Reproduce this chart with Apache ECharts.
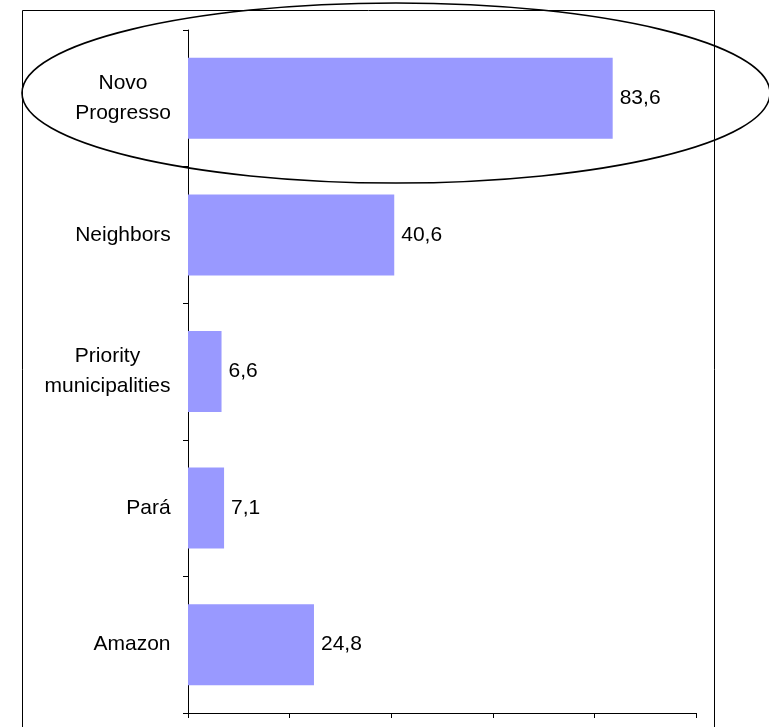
<!DOCTYPE html>
<html>
<head>
<meta charset="utf-8">
<script src="https://cdn.jsdelivr.net/npm/echarts@6/dist/echarts.min.js"></script>
<style>
  html, body { margin: 0; padding: 0; background: #fff; }
  #chart { width: 769px; height: 727px; }
</style>
</head>
<body>
<div id="chart"></div>
<script>
// data
const categories = ['Novo\nProgresso', 'Neighbors', 'Priority\nmunicipalities', 'Pará', 'Amazon'];
const values = [83.6, 40.6, 6.6, 7.1, 24.8];
const xTicks = [0, 20, 40, 60, 80, 100];

const FONT = '"Liberation Sans", Arial, sans-serif';
const FS = 21;

// each multi-line label gets its own width so the lines center on each other
const ctx = document.createElement('canvas').getContext('2d');
ctx.font = FS + 'px ' + FONT;
const rich = {};
categories.forEach((c, i) => {
  const w = Math.max(...c.split('\n').map((s) => ctx.measureText(s).width));
  rich['c' + i] = {
    width: Math.ceil(w),
    align: 'center',
    fontSize: FS,
    fontFamily: FONT,
    lineHeight: 30,
    color: '#000',
  };
});

const myChart = echarts.init(document.getElementById('chart'), null, { renderer: 'canvas' });

const option = {
  animation: false,
  grid: {
    left: 188,
    right: 73,
    top: 30,
    bottom: 14,
  },
  xAxis: {
    type: 'value',
    min: xTicks[0],
    max: xTicks[xTicks.length - 1],
    interval: xTicks[1] - xTicks[0],
    axisLine: { show: true, lineStyle: { color: '#000', width: 1 } },
    axisTick: { show: true, inside: false, length: 5, lineStyle: { color: '#000' } },
    axisLabel: { show: false },
    splitLine: { show: false },
  },
  yAxis: {
    type: 'category',
    inverse: true,
    data: categories,
    axisLine: { show: true, lineStyle: { color: '#000', width: 1 } },
    axisTick: { show: true, inside: false, length: 5, lineStyle: { color: '#000' } },
    axisLabel: {
      margin: 17,
      align: 'right',
      formatter: (v, i) => v.split('\n').map((s) => '{c' + i + '|' + s + '}').join('\n'),
      rich: rich,
    },
  },
  series: [
    {
      type: 'bar',
      data: values,
      barWidth: 81,
      itemStyle: { color: '#9999FF' },
      label: {
        show: true,
        position: 'right',
        distance: 7,
        color: '#000',
        fontSize: FS,
        fontFamily: FONT,
        formatter: (p) => p.value.toFixed(1).replace('.', ','),
      },
    },
  ],
  graphic: [
    {
      // outer frame
      type: 'rect',
      shape: { x: 22.5, y: 10.5, width: 692, height: 740 },
      style: { fill: 'none', stroke: '#000', lineWidth: 1 },
      z: 1,
    },
    {
      // highlight ring round the first bar
      type: 'ellipse',
      shape: { cx: 396, cy: 93, rx: 374, ry: 90 },
      style: { fill: 'none', stroke: '#000', lineWidth: 1.6 },
      z: 100,
    },
  ],
};

myChart.setOption(option);
</script>
</body>
</html>
